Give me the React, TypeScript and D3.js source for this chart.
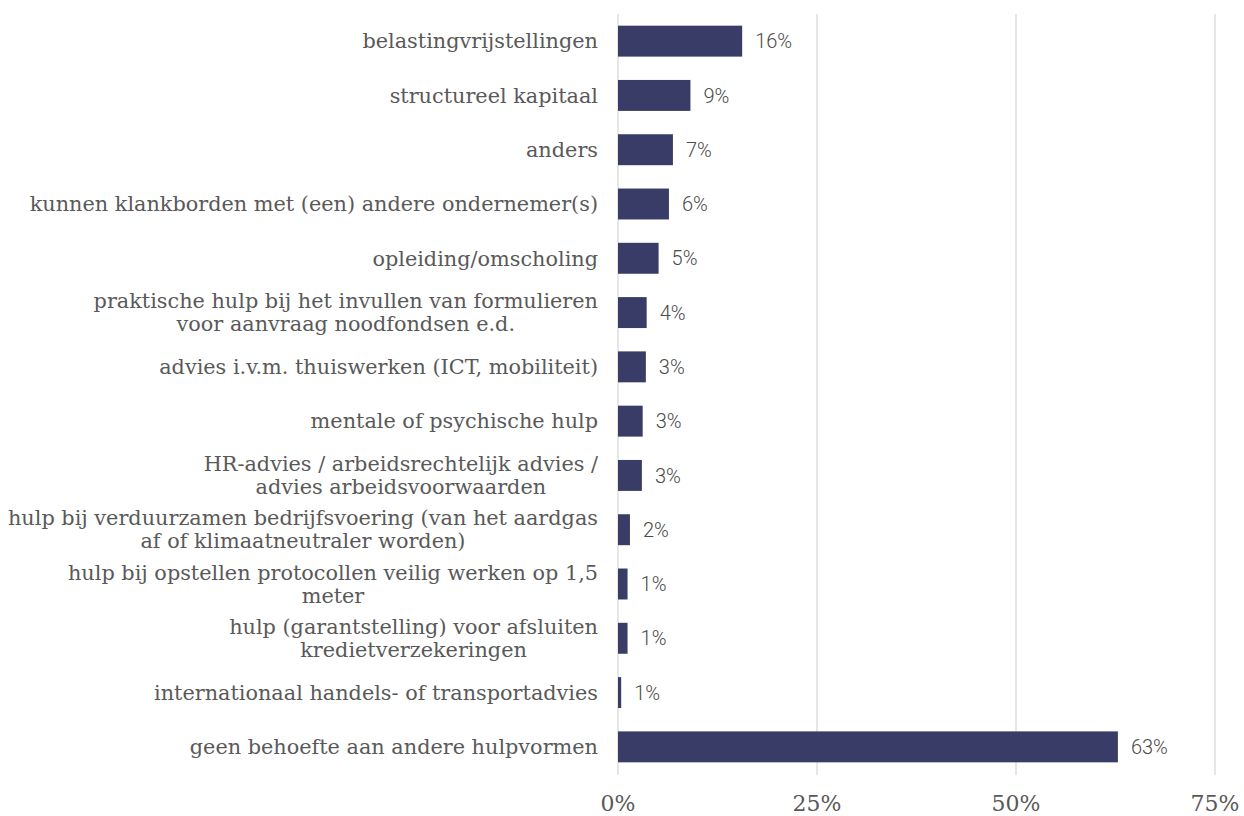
import React from "react";
import * as d3 from "d3";

const categories: string[] = [
  "belastingvrijstellingen",
  "structureel kapitaal",
  "anders",
  "kunnen klankborden met (een) andere ondernemer(s)",
  "opleiding/omscholing",
  "praktische hulp bij het invullen van formulieren\nvoor aanvraag noodfondsen e.d.",
  "advies i.v.m. thuiswerken (ICT, mobiliteit)",
  "mentale of psychische hulp",
  "HR-advies / arbeidsrechtelijk advies /\nadvies arbeidsvoorwaarden",
  "hulp bij verduurzamen bedrijfsvoering (van het aardgas\naf of klimaatneutraler worden)",
  "hulp bij opstellen protocollen veilig werken op 1,5\nmeter",
  "hulp (garantstelling) voor afsluiten\nkredietverzekeringen",
  "internationaal handels- of transportadvies",
  "geen behoefte aan andere hulpvormen",
];
const values: number[] = [15.6, 9.1, 6.9, 6.4, 5.1, 3.6, 3.5, 3.1, 3.0, 1.5, 1.2, 1.2, 0.4, 62.8];
const valueLabels: string[] = ["16%", "9%", "7%", "6%", "5%", "4%", "3%", "3%", "3%", "2%", "1%", "1%", "1%", "63%"];
const ticks: number[] = [0, 25, 50, 75];

const W = 1244;
const H = 816;
const LABEL_SIZE = 20.8;
const LABEL_FONT = `${LABEL_SIZE}px 'DejaVu Serif'`;

let ctx: CanvasRenderingContext2D | null = null;
function measure(text: string, font: string): number {
  if (!ctx) ctx = document.createElement("canvas").getContext("2d");
  if (!ctx) return text.length * 10;
  ctx.font = font;
  return ctx.measureText(text).width;
}

export default function App() {
  const x = d3.scaleLinear().domain([0, 75]).range([618, 1215]);
  const y = d3.scaleBand<string>().domain(categories).range([14, 774]).paddingInner(0.43).paddingOuter(0.215);
  const labelRight = 598;
  return (
    <svg width={W} height={H} style={{ position: "absolute", left: 0, top: 0, background: "#fff" }}>
      {ticks.map((t) => (
        <line key={"g" + t} x1={x(t)} x2={x(t)} y1={14} y2={775} stroke="#d9d9d9" strokeWidth={1.3} />
      ))}
      {categories.map((c, i) => {
        const yc = (y(c) as number) + y.bandwidth() / 2;
        const lines = c.split("\n");
        const maxW = Math.max(...lines.map((l) => measure(l, LABEL_FONT)));
        const cx = labelRight - maxW / 2;
        const lh = 23;
        return (
          <g key={c}>
            <rect x={x(0)} y={y(c)} width={x(values[i]) - x(0)} height={y.bandwidth()} fill="#383c66" />
            <text
              x={x(values[i]) + 13}
              y={yc}
              dy="0.36em"
              fontFamily="Roboto, 'Noto Sans', sans-serif"
              fontWeight={300}
              fontSize={20}
              fill="#4a4a4a"
            >
              {valueLabels[i]}
            </text>
            {lines.map((l, k) => (
              <text
                key={k}
                x={cx}
                y={yc + (k - (lines.length - 1) / 2) * lh}
                dy="0.35em"
                textAnchor="middle"
                fontFamily="'DejaVu Serif', serif"
                fontSize={LABEL_SIZE}
                fill="#595959"
              >
                {l}
              </text>
            ))}
          </g>
        );
      })}
      {ticks.map((t) => (
        <text
          key={"t" + t}
          x={x(t)}
          y={811}
          textAnchor="middle"
          fontFamily="'DejaVu Serif', serif"
          fontSize={22}
          fill="#595959"
        >
          {t + "%"}
        </text>
      ))}
    </svg>
  );
}
